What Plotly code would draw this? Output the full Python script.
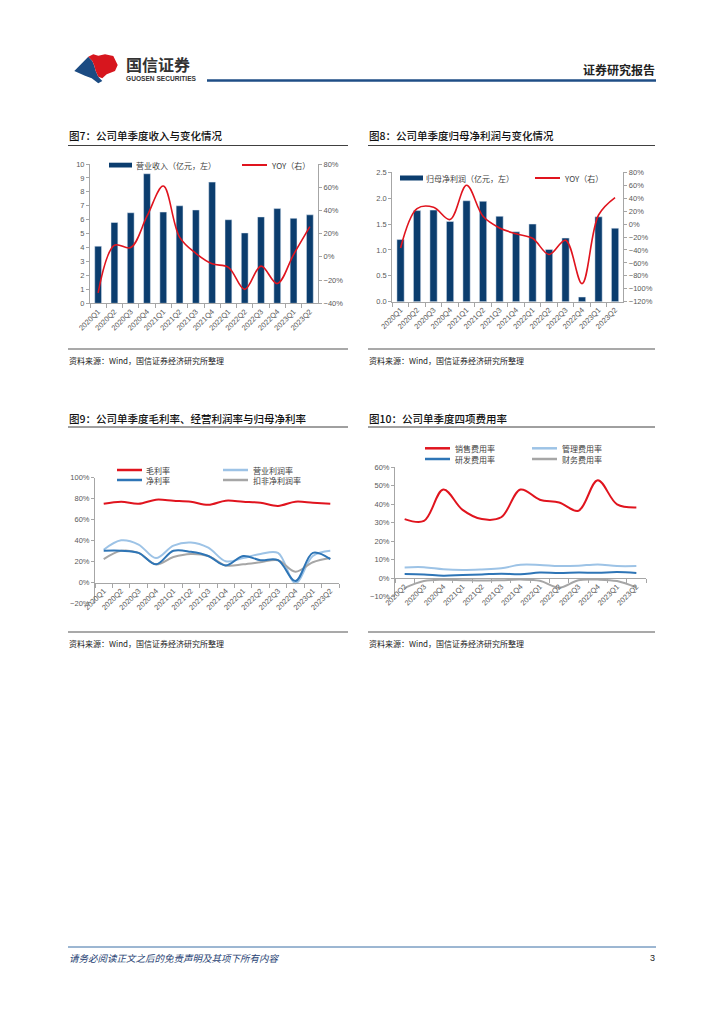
import plotly.graph_objects as go

W, H = 724, 1024
def X(px): return px / W
def Y(py): return 1 - py / H

# ---------------- data ----------------
quarters = ["2020Q1", "2020Q2", "2020Q3", "2020Q4", "2021Q1", "2021Q2", "2021Q3",
            "2021Q4", "2022Q1", "2022Q2", "2022Q3", "2022Q4", "2023Q1", "2023Q2"]
revenue = [4.1, 5.8, 6.5, 9.3, 6.55, 7.0, 6.7, 8.7, 6.0, 5.05, 6.2, 6.8, 6.1, 6.35]
revenue_yoy = [-31, 10, 8, 35, 61, 17, 3, -6, -9, -28, -8, -23, 2, 26]

profit = [1.2, 1.76, 1.77, 1.55, 1.95, 1.94, 1.65, 1.35, 1.5, 1.01, 1.23, 0.09, 1.64, 1.42]
profit_yoy = [-37, 24, 26, 7, 60, 12, -6, -15, -22, -47, -25, -92, 14, 41]

gross_margin = [75, 77, 75, 79, 78, 77, 74, 78, 77, 76, 73, 77, 76, 75]
op_margin = [31, 40, 36, 23, 35, 38, 33, 20, 23, 27, 28, -1, 25, 30]
net_margin = [30, 30, 28, 17, 30, 29, 25, 16, 25, 21, 21, 1, 28, 22]
deducted_margin = [22, 30, 28, 17, 24, 27, 25, 16, 17, 19, 21, 10, 19, 23]

fee_quarters = ["2020Q2", "2020Q3", "2020Q4", "2021Q1", "2021Q2", "2021Q3", "2021Q4",
                "2022Q1", "2022Q2", "2022Q3", "2022Q4", "2023Q1", "2023Q2"]
sales_rate = [32, 31, 48, 37, 32, 33, 48, 42.5, 41, 36.5, 53, 40, 38.3]
mgmt_rate = [5.9, 6.0, 4.9, 4.5, 4.8, 5.4, 7.3, 7.2, 6.6, 6.8, 7.5, 6.6, 6.6]
rd_rate = [2.3, 2.1, 1.4, 1.8, 2.1, 2.5, 2.2, 3.1, 2.8, 3.1, 3.0, 3.4, 2.9]
fin_rate = [-5.2, -1.5, -0.8, -1.0, -1.2, -1.0, -0.7, -1.3, -5.0, -1.0, -0.7, -1.5, -5.0]

# ---------------- style ----------------
NAVY = "#0B3D6E"
RED = "#E0141E"
LBLUE = "#9DC3E6"
DBLUE = "#2E75B6"
GRAY = "#A6A6A6"
CJK = "Noto Sans CJK SC"
NUM = "Liberation Sans, Noto Sans CJK SC"

fig = go.Figure()

def spline(color, width=1.8):
    return dict(color=color, width=width, shape="spline", smoothing=1)

# chart 7
fig.add_trace(go.Bar(x=quarters, y=revenue, marker_color=NAVY, width=0.42,
                     xaxis="x", yaxis="y", showlegend=False))
fig.add_trace(go.Scatter(x=quarters, y=revenue_yoy, mode="lines", line=spline(RED, 1.6),
                         xaxis="x", yaxis="y2", showlegend=False))
# chart 8
fig.add_trace(go.Bar(x=quarters, y=profit, marker_color=NAVY, width=0.44,
                     xaxis="x2", yaxis="y3", showlegend=False))
fig.add_trace(go.Scatter(x=quarters, y=profit_yoy, mode="lines", line=spline(RED, 1.6),
                         xaxis="x2", yaxis="y4", showlegend=False))
# chart 9
for vals, col in [(gross_margin, RED), (op_margin, LBLUE), (deducted_margin, GRAY), (net_margin, DBLUE)]:
    fig.add_trace(go.Scatter(x=quarters, y=vals, mode="lines", line=spline(col, 2),
                             xaxis="x3", yaxis="y5", showlegend=False))
# chart 10
for vals, col in [(sales_rate, RED), (mgmt_rate, LBLUE), (rd_rate, DBLUE), (fin_rate, GRAY)]:
    fig.add_trace(go.Scatter(x=fee_quarters, y=vals, mode="lines", line=spline(col, 2),
                             xaxis="x4", yaxis="y6", showlegend=False))

ax = dict(showgrid=False, zeroline=False, showline=True, linecolor="#A6A6A6", linewidth=1,
          ticks="outside", ticklen=3, tickcolor="#A6A6A6", automargin=False,
          tickfont=dict(family=NUM, size=7.5, color="#595959"))
xax = dict(ax, type="category", tickangle=-45, tickson="boundaries", ticklen=4)

layout_axes = dict(
    xaxis=dict(xax, domain=[X(90), X(318)], anchor="y", range=[-0.5, 13.5]),
    yaxis=dict(ax, domain=[Y(303.3), Y(164)], range=[0, 10], dtick=1, anchor="x"),
    yaxis2=dict(ax, overlaying="y", side="right", anchor="x", range=[-40, 80], dtick=20, ticksuffix="%"),
    xaxis2=dict(xax, domain=[X(392.3), X(623.3)], anchor="y3", range=[-0.5, 13.5]),
    yaxis3=dict(ax, domain=[Y(301.7), Y(172.3)], range=[0, 2.5], dtick=0.5, tickformat=".1f", anchor="x2"),
    yaxis4=dict(ax, overlaying="y3", side="right", anchor="x2", range=[-120, 80], dtick=20, ticksuffix="%"),
    xaxis3=dict(xax, domain=[X(95), X(339)], anchor="free", position=Y(582.7), range=[-0.5, 13.5]),
    yaxis5=dict(ax, domain=[Y(603), Y(477.7)], range=[-20, 100], dtick=20, ticksuffix="%", anchor="x3"),
    xaxis4=dict(xax, domain=[X(395), X(646)], anchor="free", position=Y(578.3), range=[-0.5, 12.5]),
    yaxis6=dict(ax, domain=[Y(596.8), Y(467.3)], range=[-10, 60], dtick=10, ticksuffix="%", anchor="x4"),
)

shapes = []
annotations = []

def line(x0, y0, x1, y1, color, width):
    shapes.append(dict(type="line", xref="paper", yref="paper", x0=X(x0), y0=Y(y0),
                       x1=X(x1), y1=Y(y1), line=dict(color=color, width=width)))

def rect(x0, y0, x1, y1, color):
    shapes.append(dict(type="rect", xref="paper", yref="paper", x0=X(x0), y0=Y(y0),
                       x1=X(x1), y1=Y(y1), fillcolor=color, line=dict(width=0)))

def text(x, y, s, size, color="#333333", anchor="left", family=CJK, **kw):
    annotations.append(dict(xref="paper", yref="paper", x=X(x), y=Y(y), text=s, showarrow=False,
                            xanchor=anchor, yanchor="middle", borderpad=0,
                            font=dict(family=family, size=size, color=color, **kw)))

def path(points, color):
    d = "M " + " L ".join(f"{X(a):.5f},{Y(b):.5f}" for a, b in points) + " Z"
    shapes.append(dict(type="path", xref="paper", yref="paper", path=d,
                       fillcolor=color, line=dict(width=0)))

# header
path([(74.3, 71), (88.3, 56.7), (92.3, 61), (94.3, 65.7), (95.7, 71), (98.3, 76.7),
      (102.3, 81), (98.3, 83.3), (91.7, 78.3), (85, 75.7)], "#1B4B82")
path([(88.3, 56.7), (93.3, 54.3), (98.3, 55.7), (105, 54.3), (113.3, 56), (117.7, 65),
      (115, 71), (106.7, 74.3), (102.3, 78.3), (98.3, 76.7), (95.7, 71), (94.3, 65.7),
      (92.3, 61)], "#D7161E")
text(125, 64, "国信证券", 16, "#333333", weight="bold")
text(125, 78, "GUOSEN SECURITIES", 6.6, "#333333", family=NUM, weight="bold")
text(656, 69, "证券研究报告", 12, "#222222", anchor="right", weight="bold")
line(207, 80.5, 656, 80.5, "#1F4E86", 2.5)

# chart frames
source = "资料来源：Wind，国信证券经济研究所整理"
for (x0, x1, ty, uy, by, sy, title) in [
        (68, 348, 135, 145.5, 349, 360.5, "图7：公司单季度收入与变化情况"),
        (368, 655, 135, 145.5, 349, 360.5, "图8：公司单季度归母净利润与变化情况"),
        (68, 348, 418, 427, 632, 643, "图9：公司单季度毛利率、经营利润率与归母净利率"),
        (368, 655, 418, 427, 632, 643, "图10：公司单季度四项费用率")]:
    text(x0, ty, title, 10.5, "#111111", weight=500)
    line(x0, uy, x1, uy, "#404040", 1)
    line(x0, by, x1, by, "#8C8C8C", 1.5)
    text(x0, sy, source, 8, "#222222")

# legends chart 7/8
rect(109, 162.7, 132, 167.5, NAVY)
text(135, 165, "营业收入（亿元，左）", 8, "#404040")
line(242, 165, 267, 165, RED, 2)
text(270, 165, "YOY（右）", 8, "#404040")
rect(400, 175.5, 423, 180.5, NAVY)
text(425, 178, "归母净利润（亿元，左）", 8, "#404040")
line(535, 178, 560, 178, RED, 2)
text(563, 178, "YOY（右）", 8, "#404040")

# legend chart 9
line(117, 470, 142, 470, RED, 2.5); text(145, 470, "毛利率", 8, "#404040")
line(223, 470, 248, 470, LBLUE, 2.5); text(252, 470, "营业利润率", 8, "#404040")
line(117, 480, 142, 480, DBLUE, 2.5); text(145, 480, "净利率", 8, "#404040")
line(223, 480, 248, 480, GRAY, 2.5); text(252, 480, "扣非净利润率", 8, "#404040")

# legend chart 10
line(425, 448.3, 450, 448.3, RED, 2.5); text(454, 448.3, "销售费用率", 8, "#404040")
line(532, 448.3, 557, 448.3, LBLUE, 2.5); text(561, 448.3, "管理费用率", 8, "#404040")
line(425, 459, 450, 459, DBLUE, 2.5); text(454, 459, "研发费用率", 8, "#404040")
line(532, 459, 557, 459, GRAY, 2.5); text(561, 459, "财务费用率", 8, "#404040")

# footer
line(68, 947, 656, 947, "#3A6EA5", 1)
text(68, 957.5, "请务必阅读正文之后的免责声明及其项下所有内容", 9.5, "#1F3F73", style="italic")
text(656, 958, "3", 9, "#222222", anchor="right", family=NUM)

fig.update_layout(width=W, height=H, autosize=False,
                  margin=dict(l=0, r=0, t=0, b=0, pad=0, autoexpand=False),
                  paper_bgcolor="white", plot_bgcolor="white", hovermode=False,
                  shapes=shapes, annotations=annotations, bargap=0, **layout_axes)

fig.write_html("out.html", config={"displayModeBar": False, "staticPlot": True},
               post_script="document.body.style.margin='0';document.body.style.overflow='hidden';")
